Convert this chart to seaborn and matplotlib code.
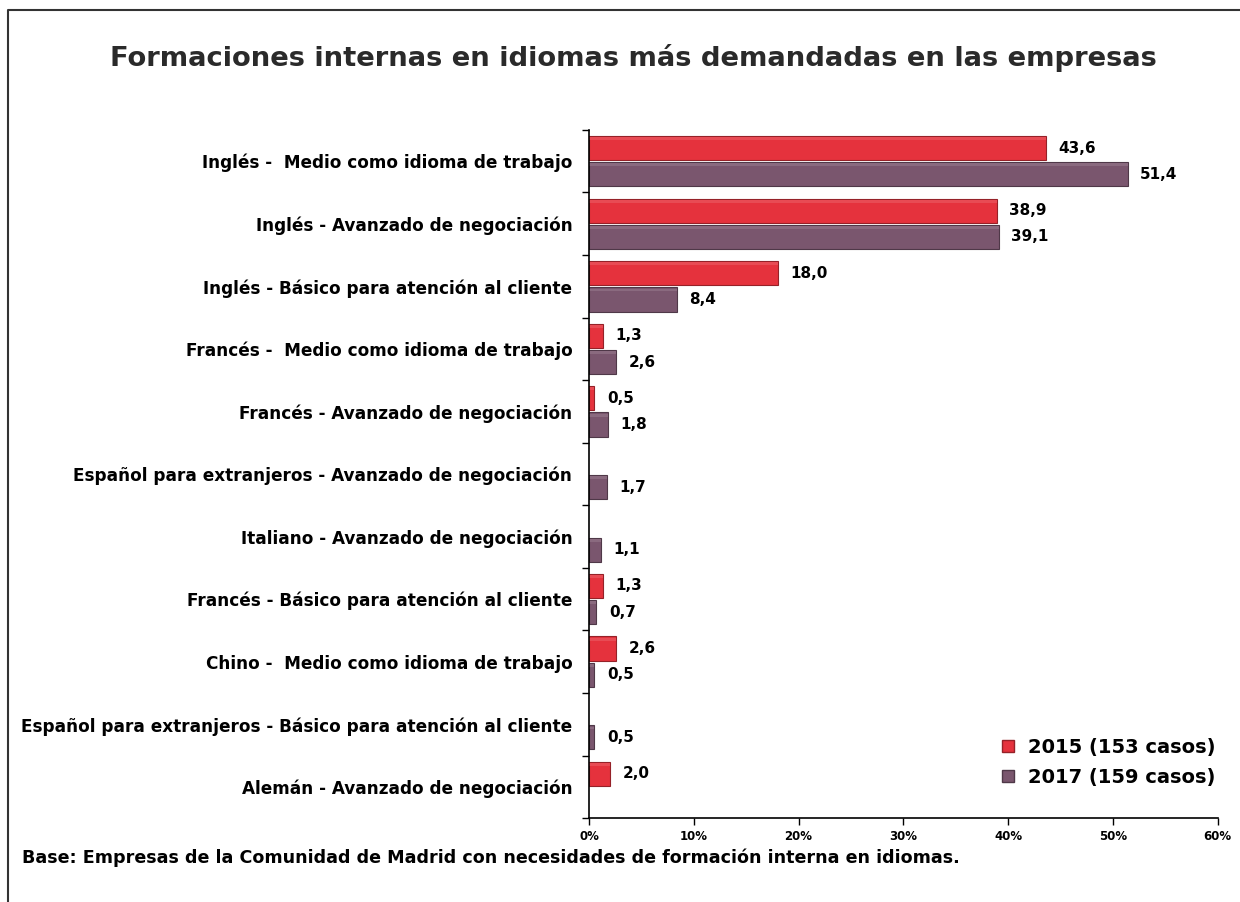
import numpy as np
import pandas as pd
import matplotlib
matplotlib.use("Agg")
import matplotlib.pyplot as plt
import seaborn as sns
from matplotlib.lines import Line2D
from matplotlib.patches import Rectangle

sns.set_style("white")
plt.rcParams['font.family'] = ['DejaVu Sans']
plt.rcParams['text.color'] = 'black'
plt.rcParams['xtick.color'] = 'black'
plt.rcParams['ytick.color'] = 'black'

# datos
categorias = [
    "Inglés -  Medio como idioma de trabajo",
    "Inglés - Avanzado de negociación",
    "Inglés - Básico para atención al cliente",
    "Francés -  Medio como idioma de trabajo",
    "Francés - Avanzado de negociación",
    "Español para extranjeros - Avanzado de negociación",
    "Italiano - Avanzado de negociación",
    "Francés - Básico para atención al cliente",
    "Chino -  Medio como idioma de trabajo",
    "Español para extranjeros - Básico para atención al cliente",
    "Alemán - Avanzado de negociación",
]
valores_2015 = [43.6, 38.9, 18.0, 1.3, 0.5, np.nan, np.nan, 1.3, 2.6, np.nan, 2.0]
valores_2017 = [51.4, 39.1, 8.4, 2.6, 1.8, 1.7, 1.1, 0.7, 0.5, 0.5, np.nan]
series = ["2015 (153 casos)", "2017 (159 casos)"]
colores = ["#E5323D", "#7A566E"]
ticks_x = [0, 10, 20, 30, 40, 50, 60]

df = pd.DataFrame({
    "categoria": categorias * 2,
    "serie": [series[0]] * len(categorias) + [series[1]] * len(categorias),
    "valor": valores_2015 + valores_2017,
}).dropna()

fig = plt.figure(figsize=(12.4, 9.02), dpi=100)
ax = fig.add_axes([0.475, 0.093, 0.507, 0.763])

sns.barplot(data=df, y="categoria", x="valor", hue="serie", order=categorias,
            hue_order=series, palette=colores, orient="h", width=0.84, gap=0.08,
            edgecolor=None, linewidth=0, saturation=1, legend=False, ax=ax)

# efecto de brillo y etiquetas
for p in list(ax.patches):
    w = p.get_width()
    if np.isnan(w) or w <= 0:
        continue
    x0, y0, h = p.get_x(), p.get_y(), p.get_height()
    base = np.array(matplotlib.colors.to_rgb(p.get_facecolor()))
    p.set_edgecolor(tuple(base * 0.65))
    p.set_linewidth(0.8)
    ax.add_patch(Rectangle((x0, y0 + h * 0.05), w, h * 0.12, facecolor=tuple(base + (1 - base) * 0.12),
                           edgecolor="none", zorder=p.get_zorder() + 0.1))
    ax.text(w + 1.2, y0 + h / 2, f"{w:.1f}".replace(".", ","), va="center", ha="left",
            fontsize=11, fontweight="bold", color="black")

ax.set_xlim(0, 60)
ax.set_ylim(len(categorias) - 0.5, -0.5)
ax.set_xticks(ticks_x)
ax.set_xticklabels([f"{t}%" for t in ticks_x], fontsize=8.5, fontweight="bold")
ax.tick_params(axis="x", direction="out", length=5, width=1, color="black", bottom=True)

ax.set_yticks(range(len(categorias)))
ax.set_yticklabels(categorias, fontsize=12.2, fontweight="bold")
ax.set_yticks(np.arange(-0.5, len(categorias), 1), minor=True)
ax.tick_params(axis="y", which="major", length=0, pad=12)
ax.tick_params(axis="y", which="minor", direction="out", length=5, width=1, color="black", left=True)

ax.set_xlabel("")
ax.set_ylabel("")
for s in ["top", "right"]:
    ax.spines[s].set_visible(False)
for s in ["left", "bottom"]:
    ax.spines[s].set_color("black")
    ax.spines[s].set_linewidth(1.2)

handles = [Line2D([0], [0], marker="s", linestyle="none", markersize=8,
                  markerfacecolor=c, markeredgecolor=tuple(np.array(matplotlib.colors.to_rgb(c)) * 0.65))
           for c in colores]
ax.legend(handles, series, loc="lower right", bbox_to_anchor=(1.025, 0.02), frameon=False,
          prop={"weight": "bold", "size": 14}, handletextpad=0.05, labelspacing=0.55)

fig.text(0.511, 0.936, "Formaciones internas en idiomas más demandadas en las empresas",
         ha="center", va="center", fontsize=19.7, fontweight="bold", color="#2a2a2a")
fig.text(0.018, 0.049, "Base: Empresas de la Comunidad de Madrid con necesidades de formación interna en idiomas.",
         ha="left", va="center", fontsize=12.6, fontweight="bold", color="black")

# marco
fig.add_artist(Line2D([0.0065, 0.0065, 1.0], [0.0, 0.989, 0.989], transform=fig.transFigure,
                      color="#333333", linewidth=1.5))

fig.savefig("out.png", dpi=100)
